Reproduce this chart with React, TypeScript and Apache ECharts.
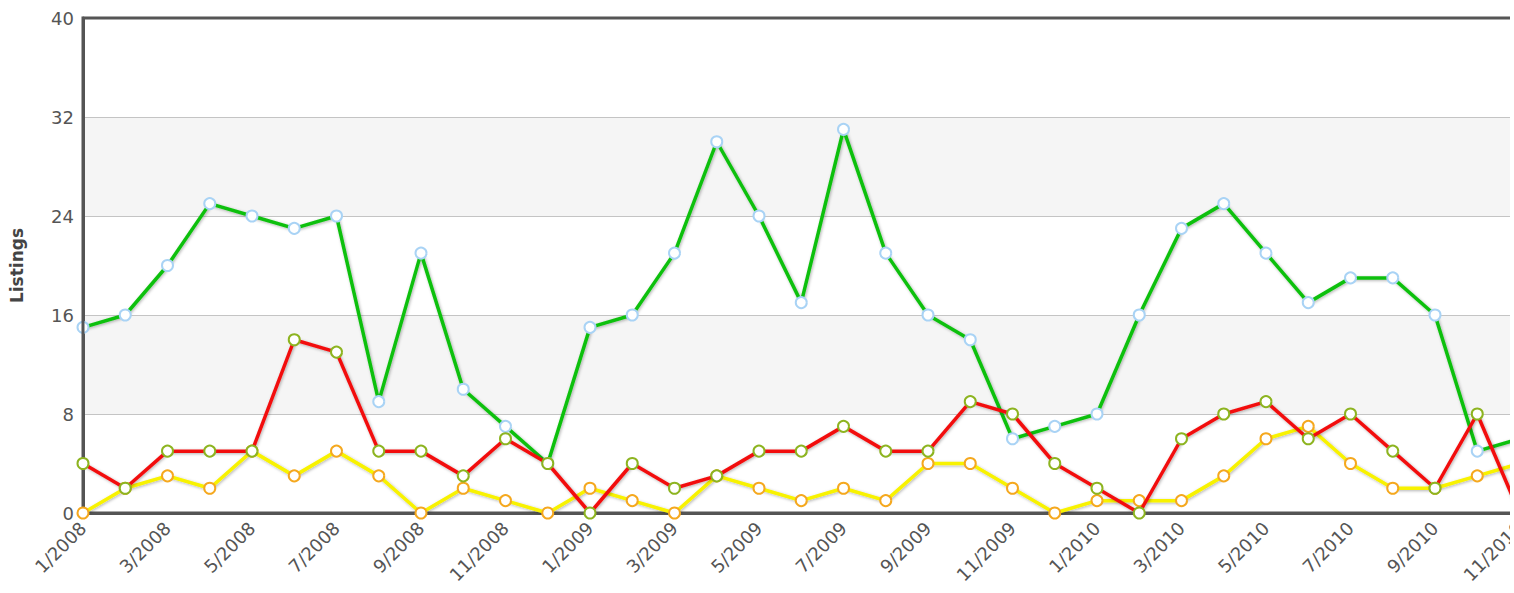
import React, { useEffect, useRef } from "react";
import * as echarts from "echarts";

const months: string[] = [
  "1/2008", "2/2008", "3/2008", "4/2008", "5/2008", "6/2008", "7/2008", "8/2008", "9/2008", "10/2008", "11/2008", "12/2008",
  "1/2009", "2/2009", "3/2009", "4/2009", "5/2009", "6/2009", "7/2009", "8/2009", "9/2009", "10/2009", "11/2009", "12/2009",
  "1/2010", "2/2010", "3/2010", "4/2010", "5/2010", "6/2010", "7/2010", "8/2010", "9/2010", "10/2010", "11/2010",
];

const greenValues: number[] = [
  15, 16, 20, 25, 24, 23, 24, 9, 21, 10, 7, 4,
  15, 16, 21, 30, 24, 17, 31, 21, 16, 14, 6, 7,
  8, 16, 23, 25, 21, 17, 19, 19, 16, 5, 6,
];

const redValues: number[] = [
  4, 2, 5, 5, 5, 14, 13, 5, 5, 3, 6, 4,
  0, 4, 2, 3, 5, 5, 7, 5, 5, 9, 8, 4,
  2, 0, 6, 8, 9, 6, 8, 5, 2, 8, 0,
];

const yellowValues: number[] = [
  0, 2, 3, 2, 5, 3, 5, 3, 0, 2, 1, 0,
  2, 1, 0, 3, 2, 1, 2, 1, 4, 4, 2, 0,
  1, 1, 1, 3, 6, 7, 4, 2, 2, 3, 4,
];

const yTicks = { min: 0, max: 40, interval: 8 };

function lineSeries(name: string, data: number[], lineColor: string, markerBorder: string, z: number) {
  return {
    name,
    type: "line",
    data,
    z,
    symbol: "circle",
    symbolSize: 11,
    showSymbol: true,
    lineStyle: {
      color: lineColor,
      width: 3.5,
      shadowColor: "rgba(0,0,0,0.3)",
      shadowBlur: 3,
      shadowOffsetX: 1,
      shadowOffsetY: 1,
    },
    itemStyle: {
      color: "#ffffff",
      borderColor: markerBorder,
      borderWidth: 2,
    },
  };
}

export default function App() {
  const ref = useRef<HTMLDivElement>(null);
  useEffect(() => {
    if (!ref.current) return;
    const chart = echarts.init(ref.current, null, { renderer: "svg" });
    chart.setOption({
      animation: false,
      backgroundColor: "#ffffff",
      grid: {
        left: 83,
        top: 18,
        right: 20.5,
        bottom: 80,
        show: true,
        borderColor: "#555555",
        borderWidth: 3,
        backgroundColor: "transparent",
        z: 3,
      },
      xAxis: {
        type: "category",
        data: months,
        boundaryGap: false,
        axisLine: { show: true, lineStyle: { color: "#555555", width: 3 } },
        axisTick: { show: false },
        splitLine: { show: false },
        axisLabel: {
          interval: 1,
          rotate: 45,
          margin: 12,
          color: "#555555",
          fontFamily: "DejaVu Sans",
          fontSize: 18,
        },
      },
      yAxis: {
        type: "value",
        min: yTicks.min,
        max: yTicks.max,
        interval: yTicks.interval,
        name: "Listings",
        nameLocation: "middle",
        nameRotate: 90,
        nameGap: 58,
        nameTextStyle: {
          color: "#444444",
          fontFamily: "DejaVu Sans",
          fontWeight: "bold",
          fontSize: 17,
        },
        axisLine: { show: true, lineStyle: { color: "#555555", width: 3 } },
        axisTick: { show: false },
        axisLabel: {
          color: "#555555",
          fontFamily: "DejaVu Sans",
          fontSize: 18,
          margin: 9,
        },
        splitLine: { show: true, lineStyle: { color: "#c4c4c4", width: 1 } },
        splitArea: { show: true, areaStyle: { color: ["#ffffff", "#f5f5f5"] } },
      },
      series: [
        lineSeries("Green", greenValues, "#11c011", "#a9d3f5", 2),
        lineSeries("Yellow", yellowValues, "#f8f200", "#f5a81e", 3),
        lineSeries("Red", redValues, "#f21010", "#8db420", 4),
      ],
    });
    return () => chart.dispose();
  }, []);
  return (
    <div
      style={{
        position: "fixed",
        left: 0,
        top: 0,
        width: 1510,
        height: 593,
        overflow: "hidden",
        background: "#ffffff",
      }}
    >
      <div ref={ref} style={{ width: 1540, height: 593 }} />
    </div>
  );
}
